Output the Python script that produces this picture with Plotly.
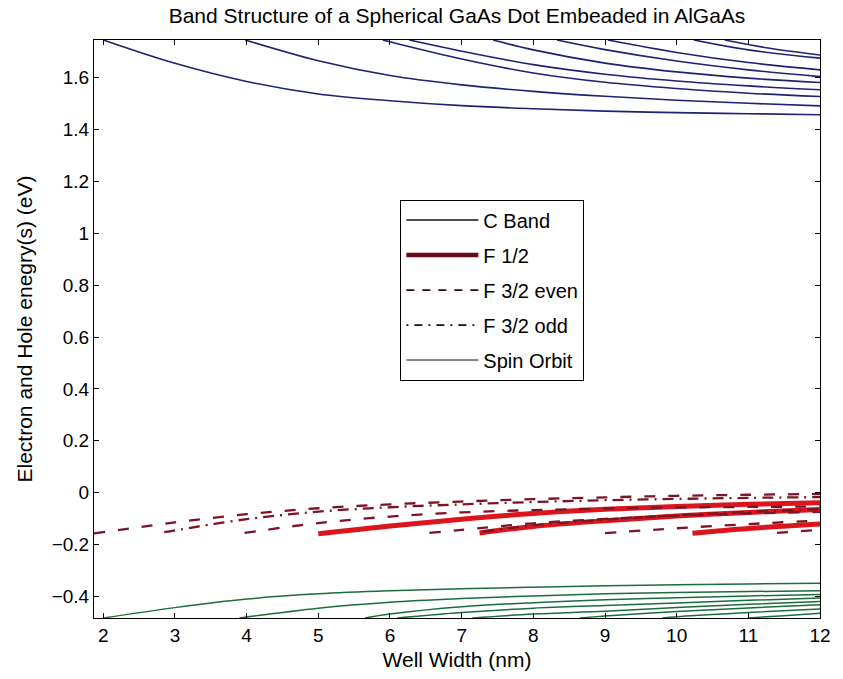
import plotly.graph_objects as go

# ---------------- data ----------------
# Conduction band levels (eV) vs well width (nm)
c_x = [
    [2.0, 3, 4, 5, 6, 7, 8, 9, 10, 11, 12],
    [3.98, 5, 6, 7, 8, 9, 10, 11, 12],
    [5.9, 6, 7, 8, 9, 10, 11, 12],
    [6.27, 7, 8, 9, 10, 11, 12],
    [7.44, 8, 9, 10, 11, 12],
    [8.33, 9, 10, 11, 12],
    [9.04, 10, 11, 12],
    [10.24, 11, 12],
    [10.67, 11.3, 12],
]
c_y = [
    [1.745, 1.655, 1.585, 1.537, 1.511, 1.492, 1.480, 1.471, 1.465, 1.461, 1.457],
    [1.745, 1.665, 1.608, 1.572, 1.547, 1.528, 1.513, 1.501, 1.491],
    [1.745, 1.738, 1.672, 1.618, 1.582, 1.558, 1.540, 1.527],
    [1.745, 1.702, 1.650, 1.613, 1.587, 1.568, 1.553],
    [1.745, 1.707, 1.656, 1.622, 1.598, 1.581],
    [1.745, 1.708, 1.664, 1.630, 1.604],
    [1.745, 1.697, 1.658, 1.630],
    [1.745, 1.707, 1.675],
    [1.745, 1.713, 1.687],
]

# F 1/2 hole levels
f12_x = [
    [5.0, 6, 7, 8, 9, 10, 11, 12],
    [7.25, 8, 9, 10, 11, 12],
    [10.22, 11, 12],
]
f12_y = [
    [-0.158, -0.128, -0.102, -0.080, -0.064, -0.053, -0.045, -0.039],
    [-0.155, -0.130, -0.108, -0.090, -0.076, -0.065],
    [-0.156, -0.138, -0.121],
]

# F 3/2 even hole levels
f32e_x = [
    [1.87, 2.5, 3, 4, 5, 6, 7, 8, 9, 10, 11, 12],
    [3.97, 5, 6, 7, 8, 9, 10, 11, 12],
    [6.55, 7, 8, 9, 10, 11, 12],
    [9.0, 10, 11, 12],
    [11.4, 12],
]
f32e_y = [
    [-0.157, -0.133, -0.114, -0.083, -0.060, -0.045, -0.034, -0.025, -0.018, -0.012, -0.008, -0.005],
    [-0.155, -0.117, -0.092, -0.076, -0.067, -0.061, -0.057, -0.055, -0.053],
    [-0.155, -0.143, -0.118, -0.101, -0.089, -0.080, -0.074],
    [-0.156, -0.137, -0.121, -0.107],
    [-0.155, -0.143],
]

# F 3/2 odd hole levels
f32o_x = [
    [2.85, 3, 4, 5, 6, 7, 8, 9, 10, 11, 12],
    [7.3, 8, 9, 10, 11, 12],
]
f32o_y = [
    [-0.152, -0.145, -0.102, -0.073, -0.056, -0.045, -0.036, -0.029, -0.024, -0.020, -0.017],
    [-0.150, -0.126, -0.104, -0.087, -0.074, -0.063],
]

# Spin-orbit levels
so_x = [
    [2.0, 3, 4, 5, 6, 7, 8, 9, 10, 11, 12],
    [3.9, 5, 6, 7, 8, 9, 10, 11, 12],
    [5.65, 6, 7, 8, 9, 10, 11, 12],
    [6.1, 7, 8, 9, 10, 11, 12],
    [7.15, 8, 9, 10, 11, 12],
    [8.65, 9, 10, 11, 12],
    [9.8, 10, 11, 12],
    [11.0, 11.5, 12],
]
so_y = [
    [-0.483, -0.443, -0.410, -0.390, -0.378, -0.370, -0.364, -0.359, -0.355, -0.352, -0.349],
    [-0.483, -0.445, -0.422, -0.408, -0.398, -0.390, -0.385, -0.381, -0.378],
    [-0.483, -0.468, -0.440, -0.424, -0.413, -0.405, -0.398, -0.392],
    [-0.483, -0.462, -0.445, -0.435, -0.425, -0.415, -0.406],
    [-0.483, -0.468, -0.457, -0.443, -0.430, -0.419],
    [-0.483, -0.475, -0.458, -0.444, -0.432],
    [-0.483, -0.478, -0.462, -0.448],
    [-0.483, -0.474, -0.465],
]

legend_names = ["C Band", "F 1/2", "F 3/2 even", "F 3/2 odd", "Spin Orbit"]
x_ticks = list(range(2, 13))
y_ticks = [-0.4, -0.2, 0, 0.2, 0.4, 0.6, 0.8, 1, 1.2, 1.4, 1.6]

# ---------------- styles ----------------
FONT = "Liberation Sans, Arial, Helvetica, sans-serif"
BLUE = "#1d2272"
RED = "#dc141c"
MAROON = "#7a1426"
GREEN = "#1b6e3c"

fig = go.Figure()

for xs, ys in zip(c_x, c_y):
    fig.add_trace(go.Scatter(x=xs, y=ys, mode="lines", showlegend=False,
                             line=dict(color=BLUE, width=1.6, shape="spline")))
for xs, ys in zip(so_x, so_y):
    fig.add_trace(go.Scatter(x=xs, y=ys, mode="lines", showlegend=False,
                             line=dict(color=GREEN, width=1.5, shape="spline")))
for xs, ys in zip(f12_x, f12_y):
    fig.add_trace(go.Scatter(x=xs, y=ys, mode="lines", showlegend=False,
                             line=dict(color=RED, width=5, shape="spline")))
for xs, ys in zip(f32e_x, f32e_y):
    fig.add_trace(go.Scatter(x=xs, y=ys, mode="lines", showlegend=False,
                             line=dict(color=MAROON, width=2.3, dash="11px,13px", shape="spline")))
for xs, ys in zip(f32o_x, f32o_y):
    fig.add_trace(go.Scatter(x=xs, y=ys, mode="lines", showlegend=False,
                             line=dict(color=MAROON, width=2.3, dash="11px,6px,2px,6px", shape="spline")))

# legend entries (legend samples are drawn dark in the reference)
leg_styles = [
    dict(color="#111111", width=1.5),
    dict(color="#6a0a14", width=4.5),
    dict(color="#2a0a12", width=1.8, dash="8px,8px"),
    dict(color="#2a0a12", width=1.8, dash="2px,6px,8px,6px"),
    dict(color="#111111", width=1),
]
for i, (name, st) in enumerate(zip(legend_names, leg_styles)):
    fig.add_trace(go.Scatter(x=[None], y=[None], mode="lines", name=name,
                             legendgroup=f"g{i}", line=st))

axis_common = dict(
    showline=True, linecolor="black", linewidth=1, mirror="ticks",
    ticks="inside", ticklen=5, tickcolor="black", tickwidth=1,
    showgrid=False, zeroline=False,
    tickfont=dict(family=FONT, size=19, color="black"),
)

fig.update_layout(
    width=843, height=679,
    margin=dict(l=94, r=15, t=40, b=59),
    paper_bgcolor="white", plot_bgcolor="white",
    font=dict(family=FONT, color="black"),
    title=dict(text="Band Structure of a Spherical GaAs Dot Embeaded in AlGaAs",
               x=0.5, xref="paper", y=1 - 16 / 679, yref="container",
               xanchor="center", yanchor="middle",
               font=dict(family=FONT, size=21, color="black")),
    xaxis=dict(range=[1.87, 12], tickvals=x_ticks,
               title=dict(text="Well Width (nm)", font=dict(family=FONT, size=21), standoff=7),
               **axis_common),
    yaxis=dict(range=[-0.483, 1.745], tickvals=y_ticks,
               title=dict(text="Electron and Hole enegry(s) (eV)", font=dict(family=FONT, size=21), standoff=13),
               **axis_common),
    legend=dict(x=0.422, y=0.724, xanchor="left", yanchor="top",
                bgcolor="white", bordercolor="black", borderwidth=1,
                font=dict(family=FONT, size=20, color="black"),
                itemwidth=72, tracegroupgap=6),
)

fig.write_html("out.html")
